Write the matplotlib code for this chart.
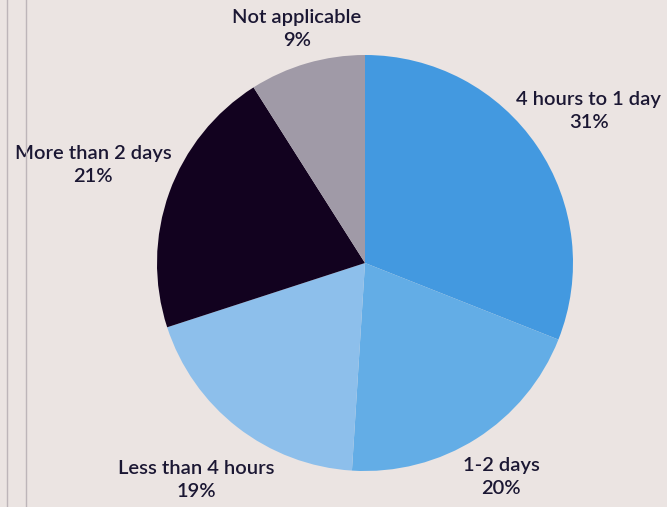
import numpy as np
import matplotlib.pyplot as plt
from matplotlib.lines import Line2D

# Time to resolve - share of responses
labels = ['4 hours to 1 day', '1-2 days', 'Less than 4 hours', 'More than 2 days', 'Not applicable']
shares = [31, 20, 19, 21, 9]
colors = ['#4399e0', '#63ade6', '#8dbfeb', '#12021f', '#a09aa7']
label_dist = [1.30, 1.22, 1.32, 1.39, 1.17]

bg = '#ebe4e2'
text_color = '#1b1733'
plt.rcParams['font.family'] = ['Lato', 'DejaVu Sans']

fig = plt.figure(figsize=(6.67, 5.07), dpi=100, facecolor=bg)
ax = fig.add_axes([(365 - 208) / 667, (507 - 263 - 208) / 507, 416 / 667, 416 / 507])
ax.set_facecolor(bg)

wedges, _ = ax.pie(shares, colors=colors, startangle=90, counterclock=False,
                   radius=1.0, wedgeprops=dict(linewidth=0))

for w, lab, val, d in zip(wedges, labels, shares, label_dist):
    mid = np.deg2rad((w.theta1 + w.theta2) / 2)
    ax.text(d * np.cos(mid), d * np.sin(mid), f'{lab}\n{val}%',
            ha='center', va='center', fontsize=14.5, color=text_color,
            fontweight='semibold', linespacing=1.45)

ax.set_xlim(-1, 1)
ax.set_ylim(-1, 1)
ax.set_aspect('equal')
ax.axis('off')

# thin vertical rules on the left edge
for x in [7 / 667, 26 / 667]:
    fig.add_artist(Line2D([x, x], [0, 1], transform=fig.transFigure,
                          color='#bdb5b9', linewidth=1))

fig.savefig('out.png', dpi=100, facecolor=bg)
